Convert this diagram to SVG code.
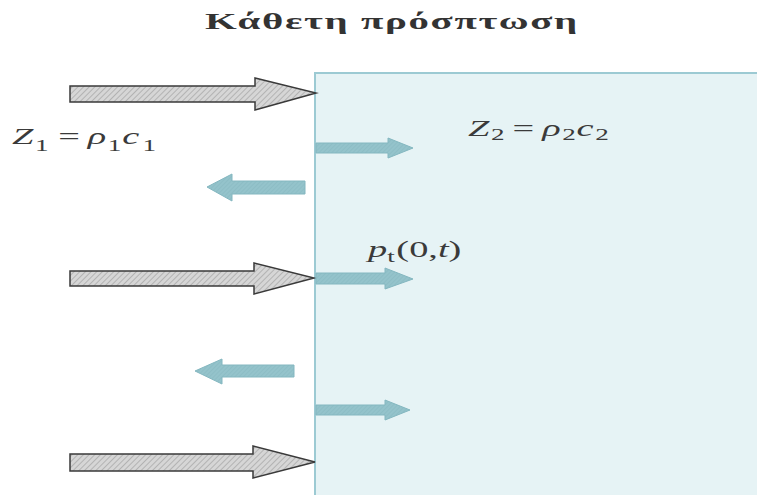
<svg xmlns="http://www.w3.org/2000/svg" width="757" height="495" viewBox="0 0 757 495">
<defs>
<pattern id="hatch" width="4" height="4" patternUnits="userSpaceOnUse" patternTransform="rotate(45)">
<rect width="4" height="4" fill="#d6d6d6"/>
<line x1="0" y1="0" x2="0" y2="4" stroke="#a8a8a8" stroke-width="1.5"/>
</pattern>
<pattern id="bhatch" width="3" height="3" patternUnits="userSpaceOnUse" patternTransform="rotate(45)">
<rect width="3" height="3" fill="#94c3cb"/>
<line x1="0" y1="0" x2="0" y2="3" stroke="#86b7c0" stroke-width="1"/>
</pattern>
</defs>
<style>
.gray{fill:url(#hatch);stroke:#3a3a3a;stroke-width:1.5;stroke-linejoin:miter}
.blue{fill:url(#bhatch);stroke:#84b7c0;stroke-width:1}
.math{font-family:"Liberation Serif","DejaVu Serif",serif;font-size:24px;fill:#3a3a3a;font-style:italic}
.up{font-style:normal}
.sub{font-size:17px;font-style:normal}
.title{font-family:"Liberation Serif","DejaVu Serif",serif;font-size:24px;font-weight:bold;fill:#333}
</style>
<rect width="757" height="495" fill="#ffffff"/>
<g id="medium2">
<rect x="315" y="73" width="450" height="430" fill="#e6f3f5" stroke="#9ccad3" stroke-width="2"/>
</g>
<text class="title" transform="translate(205,29) scale(1.7,1)" x="0" y="0" textLength="219" lengthAdjust="spacing">Κάθετη πρόσπτωση</text>
<g id="connectors">
<path id="inc1" class="gray" d="M70,86 H255 V78 L316,93 L255,110 V102 H70 Z"/>
<path id="inc2" class="gray" d="M70,271 H254 V263 L314,278 L254,294 V286 H70 Z"/>
<path id="inc3" class="gray" d="M70,454 H253 V446 L315,462 L253,478 V471 H70 Z"/>
<path id="tr1" class="blue" d="M316,143 H388 V138 L413,148 L388,158 V153 H316 Z"/>
<path id="tr2" class="blue" d="M316,273 H385 V268 L413,279 L385,289 V284 H316 Z"/>
<path id="tr3" class="blue" d="M316,405 H385 V400 L410,410 L385,420 V415 H316 Z"/>
<path id="ref1" class="blue" d="M305,181 H232 V174 L207,187 L232,201 V194 H305 Z"/>
<path id="ref2" class="blue" d="M294,365 H222 V359 L195,371 L222,384 V377 H294 Z"/>
</g>
<text class="math" transform="translate(12,144) scale(1.6,1)">Z<tspan class="sub" dx="1" dy="7">1</tspan><tspan class="up" dx="6" dy="-7">=</tspan><tspan dx="5">ρ</tspan><tspan class="sub" dx="1" dy="7">1</tspan><tspan dx="0.5" dy="-7">c</tspan><tspan class="sub" dx="2" dy="7">1</tspan></text>
<text class="math" transform="translate(468,136) scale(1.6,1)">Z<tspan class="sub" dx="1" dy="4">2</tspan><tspan class="up" dx="5" dy="-4">=</tspan><tspan dx="5">ρ</tspan><tspan class="sub" dx="1" dy="4">2</tspan><tspan dx="0.5" dy="-4">c</tspan><tspan class="sub" dx="1" dy="4">2</tspan></text>
<text class="math" transform="translate(368,257) scale(1.6,1)">p<tspan class="sub" dy="5" font-style="italic">t</tspan><tspan class="up" dx="1" dy="-5">(0,</tspan>t<tspan class="up">)</tspan></text>
</svg>
